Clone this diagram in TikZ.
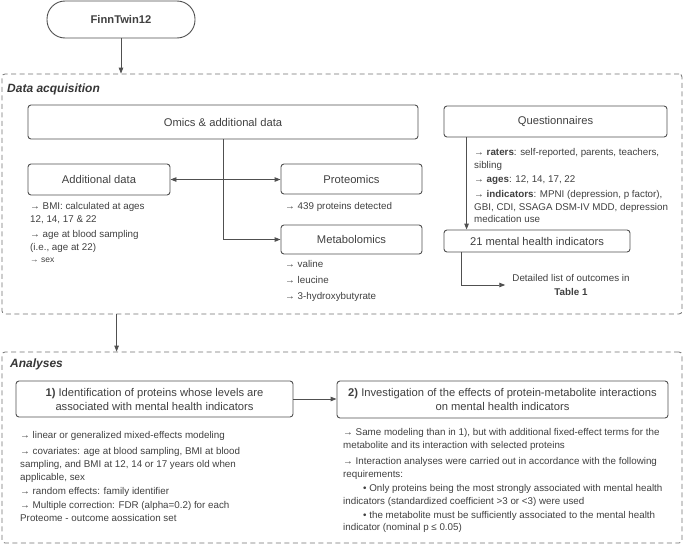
\documentclass[tikz,border=0pt]{standalone}
\usepackage{fontspec}
\setmainfont{Liberation Sans}
\usetikzlibrary{arrows.meta,calc}
\definecolor{txt}{HTML}{404040}
\definecolor{ln}{HTML}{505050}
\definecolor{dl}{HTML}{707070}
\begin{document}
\begin{tikzpicture}[x=1pt,y=-1pt,
  box/.style={draw=ln, line width=0.9pt, rounded corners=3pt, text=txt, font=\fontsize{11.2}{14}\selectfont, inner sep=0pt, align=center},
  dbox/.style={draw=dl, line width=0.8pt, dash pattern=on 5pt off 3.5pt, rounded corners=3pt, inner sep=0pt},
  lst/.style={text=txt, font=\fontsize{9.8}{12.8}\selectfont, align=left, anchor=north west, inner sep=0pt},
  ttl/.style={text=txt!85!black, font=\fontsize{12}{14}\selectfont\bfseries\itshape, anchor=west, inner sep=0pt},
  arr/.style={draw=ln, line width=0.9pt, -{Triangle[length=6pt,width=4.5pt]}},
  darr/.style={draw=ln, line width=0.9pt, {Triangle[length=6pt,width=4.5pt]}-{Triangle[length=6pt,width=4.5pt]}},
  ln/.style={draw=ln, line width=0.9pt},
]
\useasboundingbox (0,0) rectangle (685,546);

% top node
\node[box, minimum width=148pt, minimum height=37pt, rounded corners=18pt] (finn) at (121,19.5) {\bfseries FinnTwin12};

% dashed containers
\node[dbox, minimum width=680pt, minimum height=240pt] (daq) at (342,194) {};
\node[ttl] (daqlbl) at (7,89) {Data acquisition};
\node[dbox, minimum width=680pt, minimum height=191pt] (ana) at (342,447.5) {};
\node[ttl] (analbl) at (10,364) {Analyses};

% data acquisition boxes
\node[box, minimum width=390pt, minimum height=34pt] (omics) at (223,122) {Omics \& additional data};
\node[box, minimum width=142pt, minimum height=31pt] (addl) at (99,179.5) {Additional data};
\node[box, minimum width=141pt, minimum height=30pt] (prot) at (351.5,179) {Proteomics};
\node[box, minimum width=141pt, minimum height=29pt] (metab) at (351.5,239.5) {Metabolomics};
\node[box, minimum width=223pt, minimum height=31pt] (quest) at (555.5,121.5) {Questionnaires};
\node[box, minimum width=186pt, minimum height=22pt] (mh) at (537,241) {21 mental health indicators};

% lists
\node[lst] (addltxt) at (30,202.5) {→ BMI: calculated at ages\\ 12, 14, 17 \& 22\\[2pt] → age at blood sampling\\ (i.e., age at 22)\\[-0.5pt] {\fontsize{8.5}{10}\selectfont → sex}};
\node[lst] (prottxt) at (285,202.5) {→ 439 proteins detected};
\node[lst] (metabtxt) at (285,260.5) {→ valine\\[3pt] → leucine\\[3pt] → 3-hydroxybutyrate};
\node[lst] (questtxt) at (474,148.5) {→ \textbf{raters}: self-reported, parents, teachers,\\ sibling\\[1.5pt] → \textbf{ages}: 12, 14, 17, 22\\[1.5pt] → \textbf{indicators}: MPNI (depression, p factor),\\ GBI, CDI, SSAGA DSM-IV MDD, depression\\ medication use};
\node[text=txt, font=\fontsize{9.8}{14.5}\selectfont, align=center, inner sep=0pt, inner xsep=7pt] (detail) at (571,285) {Detailed list of outcomes in\\ \textbf{Table 1}};

% analyses boxes
\node[box, minimum width=277pt, minimum height=36pt] (b1) at (154.5,399) {\textbf{1)} Identification of proteins whose levels are\\ associated with mental health indicators};
\node[box, minimum width=331pt, minimum height=37pt] (b2) at (502.5,399.5) {\textbf{2)} Investigation of the effects of protein-metabolite interactions\\ on mental health indicators};

\node[lst] (b1txt) at (20,431.5) {→ linear or generalized mixed-effects modeling\\[3pt] → covariates: age at blood sampling, BMI at blood\\ sampling, and BMI at 12, 14 or 17 years old when\\ applicable, sex\\[1.5pt] → random effects: family identifier\\[1.5pt] → Multiple correction: FDR (alpha=0.2) for each\\ Proteome - outcome aossication set};
\node[lst] (b2txt) at (343,428.5) {→ Same modeling than in 1), but with additional fixed-effect terms for the\\ metabolite and its interaction with selected proteins\\[3pt] → Interaction analyses were carried out in accordance with the following\\ requirements:\\[1.5pt] \hspace*{20pt}• Only proteins being the most strongly associated with mental health\\ indicators (standardized coefficient >3 or <3) were used\\[1pt] \hspace*{20pt}• the metabolite must be sufficiently associated to the mental health\\ indicator (nominal p ≤ 0.05)};

% connectors
\draw[arr] (finn.south) -- (finn.south |- daq.north);
\draw[arr] (omics.south) |- (metab.west);
\draw[darr] (addl.east) -- (addl.east -| prot.west);
\draw[arr] ([xshift=23pt]quest.south west) -- ([xshift=23pt]quest.south west |- mh.north);
\draw[arr] ([xshift=18pt]mh.south west) |- (detail.west);
\coordinate (daqout) at ($(daq.south west)+(115,0)$);
\draw[arr] (daqout) -- (daqout |- ana.north);
\draw[arr] (b1.east) -- (b1.east -| b2.west);
\end{tikzpicture}
\end{document}
